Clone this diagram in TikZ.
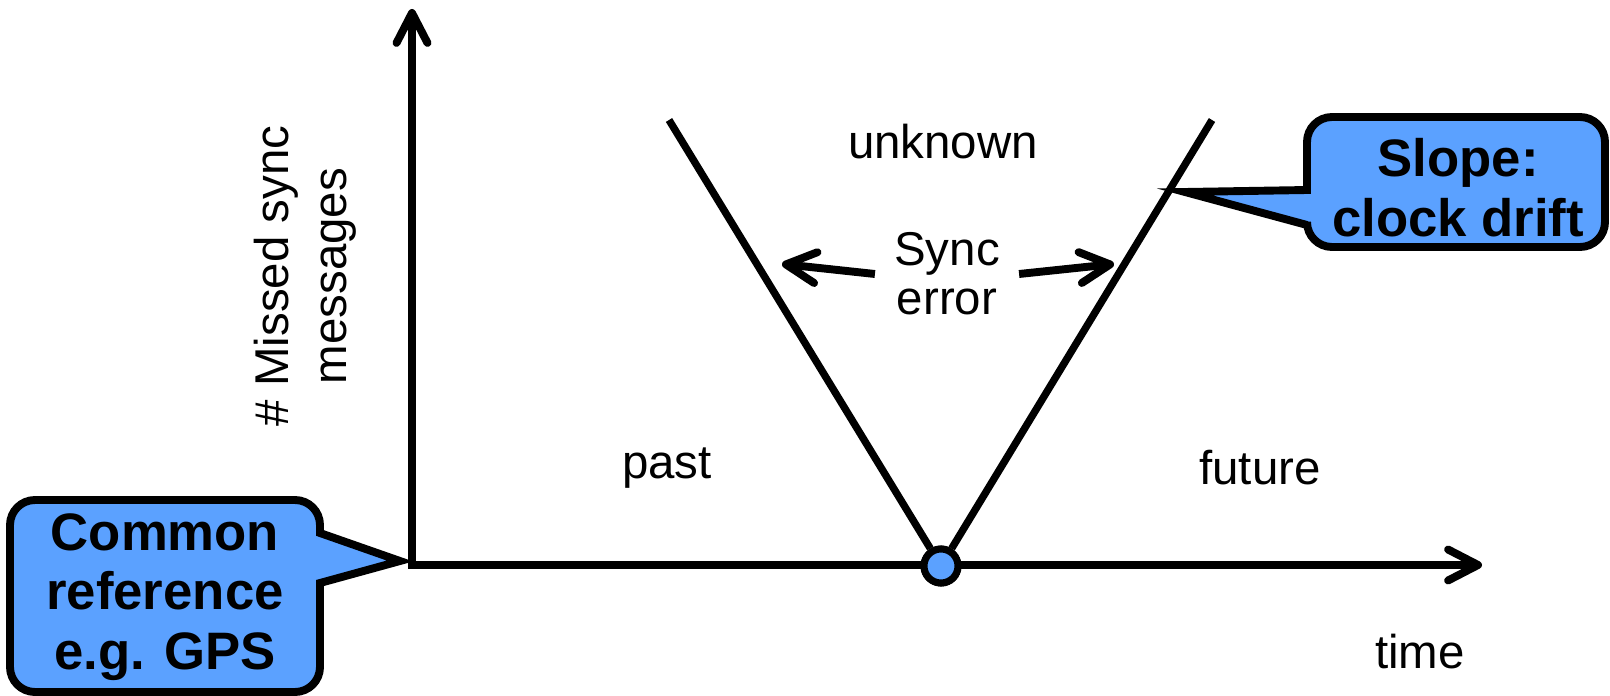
\documentclass[tikz,border=0pt]{standalone}
\usepackage{fontspec}
\setmainfont{Liberation Sans}
\usetikzlibrary{arrows.meta,positioning}
\definecolor{calloutblue}{RGB}{91,161,255}

\begin{document}
\begin{tikzpicture}[x=0.02cm, y=-0.02cm,
  >={Straight Barb[length=0.6cm, width=0.62cm, line cap=round, line join=round]},
  every node/.style={font=\fontsize{27}{28}\selectfont, align=center},
  axis/.style={line width=4.5pt},
  vline/.style={line width=4.2pt},
  bubble/.style={draw, line width=4.5pt, fill=calloutblue},
  bubbletext/.style={font=\fontsize{30}{34}\selectfont\bfseries},
  dot/.style={circle, draw, line width=4pt, fill=calloutblue, minimum size=0.68cm, inner sep=0pt}]
  \useasboundingbox (0,0) rectangle (1610,696);

  % axes
  \coordinate (origin) at (412,565);
  \coordinate (ytop) at (412,9);
  \coordinate (xend) at (1482,565);
  \draw[axis, <->] (ytop) -- (origin) -- (xend);

  % the V
  \coordinate (vleft) at (669,120);
  \coordinate (vright) at (1212,120);
  \node[dot] (t0) at (941,566) {};
  \draw[vline] (vleft) -- (t0);
  \draw[vline] (vright) -- (t0);
  \node[dot] at (t0) {};

  \node (unknown) at (943,142) {unknown};
  \node (past) at (667,468) {past};
  \node (future) at (1260,468) {future};
  \node (time) at (1420,652) {time};
  \node[rotate=90, font=\fontsize{27}{33}\selectfont] (ylab) at (305,276) {\# Missed sync\\messages};

  % sync error
  \node[font=\fontsize{27}{28}\selectfont, inner sep=0.38cm] (err) at (947,274) {Sync\\error};
  \coordinate (errl) at (782,264);
  \coordinate (errr) at (1114,264);
  \draw[axis, ->] (err.west) -- (errl);
  \draw[axis, ->] (err.east) -- (errr);

  % callouts
  \draw[bubble] (10,600) [rounded corners=0.5cm] -- (10,500) -- (320,500) [sharp corners] -- (320,533) -- (400,561) -- (320,583) [rounded corners=0.5cm] -- (320,692) -- (10,692) -- cycle;
  \node[bubbletext] (gps) at (165,597) {Common\\reference\\e.g. GPS};

  \draw[bubble] (1455,117) [rounded corners=0.5cm] -- (1605,117) -- (1605,247) -- (1307,247) [sharp corners] -- (1307,225) -- (1185,192) -- (1307,190) [rounded corners=0.5cm] -- (1307,117) -- cycle;
  \node[bubbletext] (drift) at (1458,188) {Slope:\\clock drift};
\end{tikzpicture}
\end{document}
